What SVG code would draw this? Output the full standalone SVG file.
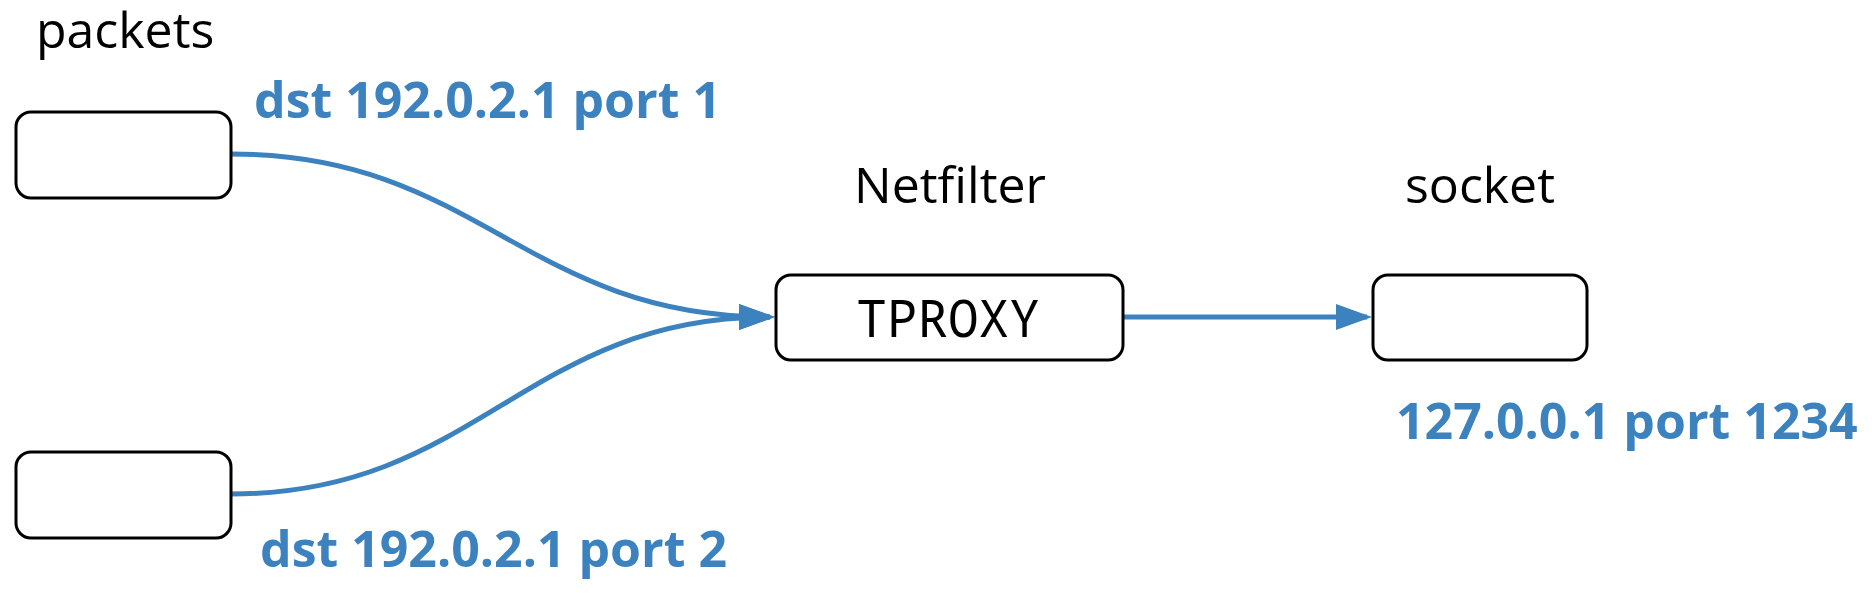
<svg xmlns="http://www.w3.org/2000/svg" width="1872" height="593" viewBox="0 0 1872 593">
  <style>
    .box { fill: #ffffff; stroke: #000000; stroke-width: 3; }
    .title { font-family: "Open Sans", "Noto Sans", "Liberation Sans", sans-serif; font-size: 50px; fill: #000000; }
    .mono { font-family: "Noto Sans Mono", "DejaVu Sans Mono", "Liberation Mono", monospace; font-size: 51px; fill: #000000; }
    .label { font-family: "Open Sans", "Noto Sans", "Liberation Sans", sans-serif; font-size: 50px; font-weight: 700; fill: #3c82be; }
    .conn { fill: none; stroke: #3c82be; stroke-width: 5; }
  </style>
  <defs>
    <marker id="arrow" markerUnits="userSpaceOnUse" markerWidth="36" markerHeight="26" refX="31" refY="13" orient="auto" viewBox="0 0 36 26">
      <path d="M0,0 L36,13 L0,26 z" fill="#3c82be"/>
    </marker>
  </defs>
  <rect width="1872" height="593" fill="#ffffff"/>

  <g id="connectors">
    <path id="edge-packet1-tproxy" class="conn" d="M231,154 C478,154 525,317 770,317" marker-end="url(#arrow)"/>
    <path id="edge-packet2-tproxy" class="conn" d="M231,494 C478,494 525,317 770,317" marker-end="url(#arrow)"/>
    <path id="edge-tproxy-socket" class="conn" d="M1123,317 L1367,317" marker-end="url(#arrow)"/>
  </g>

  <g id="packets-title">
    <text class="title" x="36" y="48">packets</text>
  </g>
  <g id="packet1">
    <rect class="box" x="16" y="112" width="215" height="86" rx="15" ry="15"/>
    <text class="label" x="254" y="118">dst 192.0.2.1 port 1</text>
  </g>
  <g id="packet2">
    <rect class="box" x="16" y="452" width="215" height="86" rx="15" ry="15"/>
    <text class="label" x="260" y="567">dst 192.0.2.1 port 2</text>
  </g>
  <g id="netfilter">
    <text class="title" x="950" y="203" text-anchor="middle">Netfilter</text>
    <rect class="box" x="776" y="275" width="347" height="85" rx="15" ry="15"/>
    <text class="mono" x="948" y="337" text-anchor="middle">TPROXY</text>
  </g>
  <g id="socket">
    <text class="title" x="1480" y="203" text-anchor="middle">socket</text>
    <rect class="box" x="1373" y="275" width="214" height="85" rx="15" ry="15"/>
    <text class="label" x="1396" y="439">127.0.0.1 port 1234</text>
  </g>
</svg>
